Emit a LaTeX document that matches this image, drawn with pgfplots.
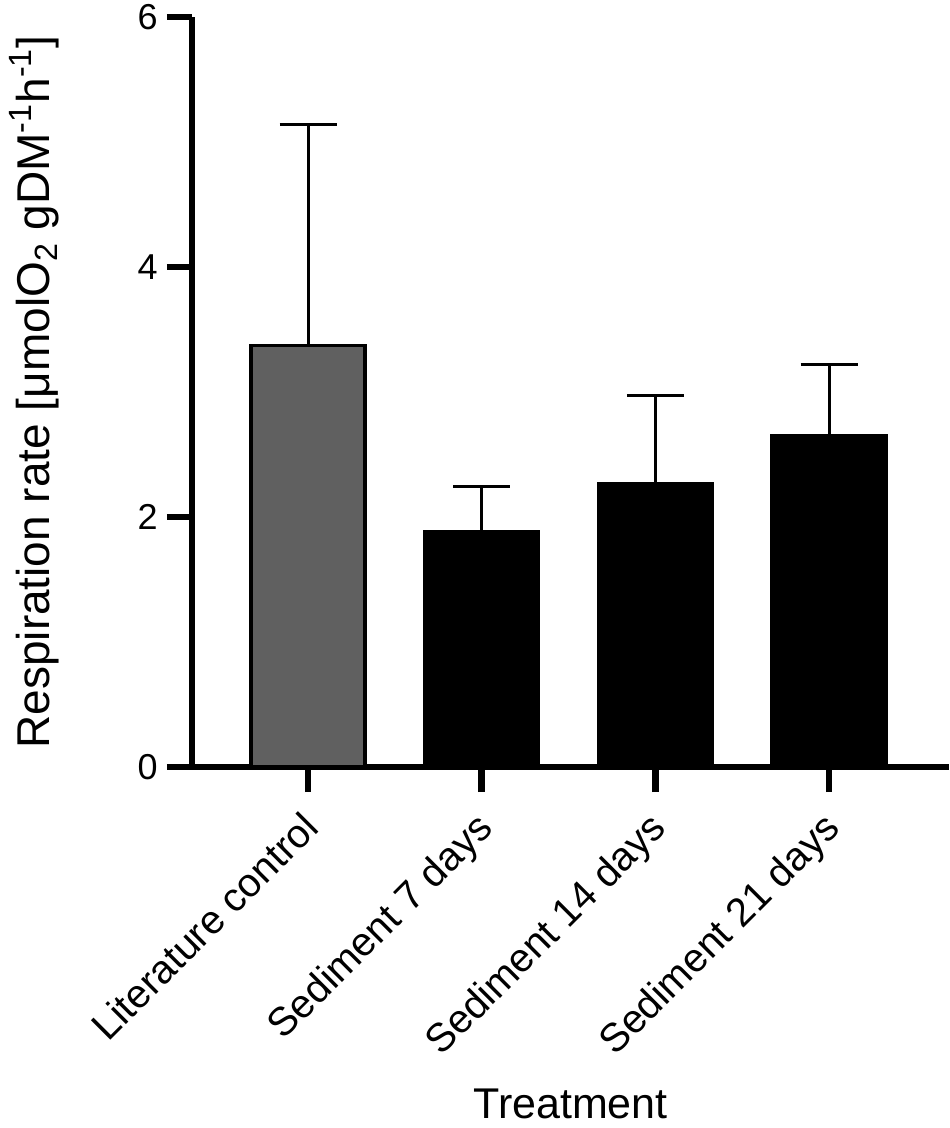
\documentclass[border=0pt]{standalone}
\usepackage{pgfplots}
\pgfplotsset{compat=1.18}
\usepackage{fontspec}
\setmainfont{Liberation Sans}
\definecolor{bargray}{RGB}{96,96,96}
\begin{document}
\begin{tikzpicture}
\begin{axis}[
  scale only axis, width=378.5pt, height=375pt,
  xmin=-0.668, xmax=3.691, ymin=0, ymax=6,
  axis lines=left,
  axis line style={-, line width=3.2pt, black},
  xtick={0,1,2,3},
  xticklabels={Literature control, Sediment 7 days, Sediment 14 days, Sediment 21 days},
  ytick={0,2,4,6},
  tick align=outside, major tick length=12.5pt,
  tick style={line width=3.2pt, black},
  minor tick num=0,
  /pgf/number format/assume math mode=true,
  yticklabel style={font=\fontsize{18}{18}\selectfont, anchor=east, inner sep=0pt, xshift=-4.5pt},
  xticklabel style={font=\fontsize{20}{20}\selectfont, inner sep=0pt, xshift=6.5pt, yshift=-19pt, rotate=45, anchor=base east},
  ylabel={Respiration rate [μmolO\textsubscript{2} gDM\textsuperscript{-1}h\textsuperscript{-1}]},
  ylabel style={font=\fontsize{23}{23}\selectfont, at={(axis description cs:-0.1876,0.5)}, anchor=base},
  xlabel={Treatment},
  xlabel style={font=\fontsize{21.5}{21.5}\selectfont, at={(axis description cs:0.5,-0.468)}, anchor=base},
]
\addplot[ybar, bar width=57pt, bar shift=0pt, fill=bargray, draw=black, line width=1.7pt,
  error bars/.cd, y dir=plus, y explicit,
  error bar style={line width=1.5pt, black},
  error mark options={rotate=90, line width=1.5pt, mark size=14.25pt, black}]
  coordinates {(0,3.37) +- (0,1.77)};
\addplot[ybar, bar width=57pt, bar shift=0pt, fill=black, draw=black, line width=1.7pt,
  error bars/.cd, y dir=plus, y explicit,
  error bar style={line width=1.5pt, black},
  error mark options={rotate=90, line width=1.5pt, mark size=14.25pt, black}]
  coordinates {(1,1.88) +- (0,0.36) (2,2.27) +- (0,0.70) (3,2.65) +- (0,0.57)};
\coordinate (sw) at (rel axis cs:0,0);
\coordinate (ne) at (rel axis cs:1,1);
\end{axis}
\pgfresetboundingbox
\path ([shift={(-96pt,-180.5pt)}]sw) rectangle ([shift={(0.5pt,8.5pt)}]ne);
\end{tikzpicture}
\end{document}
